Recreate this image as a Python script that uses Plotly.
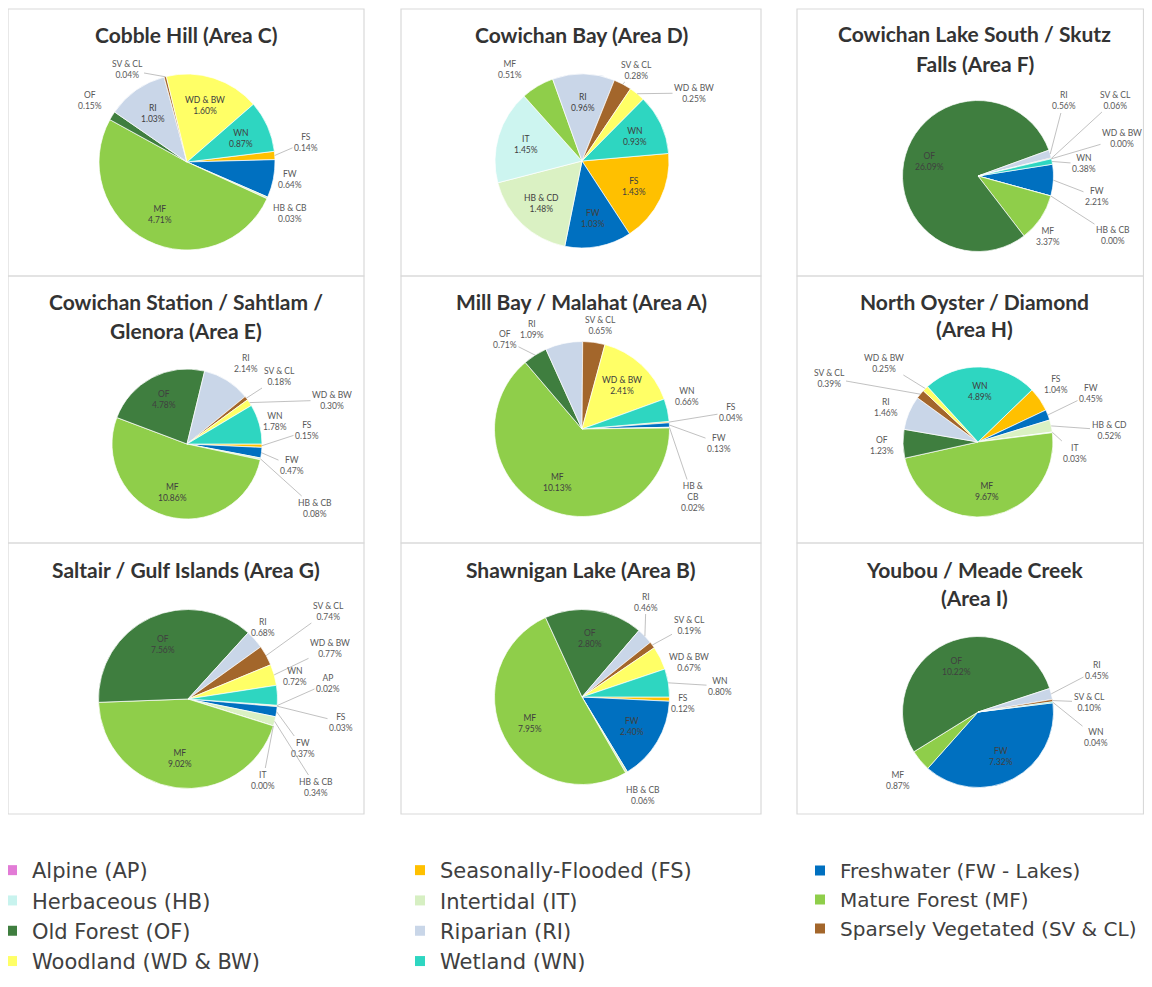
import math
import plotly.graph_objects as go

# the page places the figure 8px from the top-left corner; all positions below are in
# window pixels and converted to paper fractions
OFF = 8
W, H = 1136, 970

# ---------------- data ----------------
codes = ["AP", "FS", "FW", "HB", "IT", "MF", "OF", "RI", "SV", "WD", "WN"]
code_names = ["Alpine (AP)", "Seasonally-Flooded (FS)", "Freshwater (FW - Lakes)",
              "Herbaceous (HB)", "Intertidal (IT)", "Mature Forest (MF)",
              "Old Forest (OF)", "Riparian (RI)", "Sparsely Vegetated (SV & CL)",
              "Woodland (WD & BW)", "Wetland (WN)"]
short_labels = ["AP", "FS", "FW", "HB & CB", "IT", "MF", "OF", "RI", "SV & CL", "WD & BW", "WN"]

# percent of area, in code order (None = category not present)
area_C = [None, 0.14, 0.64, 0.03, None, 4.71, 0.15, 1.03, 0.04, 1.60, 0.87]
area_D = [None, 1.43, 1.03, 1.48, 1.45, 0.51, None, 0.96, 0.28, 0.25, 0.93]
area_F = [None, None, 2.21, 0.00, None, 3.37, 26.09, 0.56, 0.06, 0.00, 0.38]
area_E = [None, 0.15, 0.47, 0.08, None, 10.86, 4.78, 2.14, 0.18, 0.30, 1.78]
area_A = [None, 0.04, 0.13, 0.02, None, 10.13, 0.71, 1.09, 0.65, 2.41, 0.66]
area_H = [None, 1.04, 0.45, 0.52, 0.03, 9.67, 1.23, 1.46, 0.39, 0.25, 4.89]
area_G = [0.02, 0.03, 0.37, 0.34, 0.00, 9.02, 7.56, 0.68, 0.74, 0.77, 0.72]
area_B = [None, 0.12, 2.40, 0.06, None, 7.95, 2.80, 0.46, 0.19, 0.67, 0.80]
area_I = [None, None, 7.32, None, None, 0.87, 10.22, 0.45, 0.10, None, 0.04]

title_lines = [["Cobble Hill (Area C)"], ["Cowichan Bay (Area D)"],
               ["Cowichan Lake South / Skutz", "Falls (Area F)"],
               ["Cowichan Station / Sahtlam /", "Glenora (Area E)"], ["Mill Bay / Malahat (Area A)"],
               ["North Oyster / Diamond", "(Area H)"],
               ["Saltair / Gulf Islands (Area G)"], ["Shawnigan Lake (Area B)"],
               ["Youbou / Meade Creek", "(Area I)"]]
area_values = [area_C, area_D, area_F, area_E, area_A, area_H, area_G, area_B, area_I]

legend_cols = [["AP", "HB", "OF", "WD"], ["FS", "IT", "RI", "WN"], ["FW", "MF", "SV"]]

# ---------------- styles ----------------
pie_colors = {"AP": "#E27BD6", "FS": "#FFC000", "FW": "#0070C0", "HB": "#DAF1C3",
              "IT": "#CDF5F0", "MF": "#8FCE4A", "OF": "#3F7E3F", "RI": "#C9D6E8",
              "SV": "#A3662B", "WD": "#FFFF66", "WN": "#2ED6C1"}
legend_colors = dict(pie_colors)
legend_colors["HB"] = "#C8F3EE"
legend_colors["IT"] = "#D6EFC2"

FONT = "Lato"
TXT = "#404040"
LBL = 8.5

col_x = [(8, 364), (401, 761), (797, 1143.5)]
title_cx = [186, 581, 975]
row_y = [(9, 276), (276, 543), (543, 814)]
panels = [
    dict(c=(187, 162), r=88, rot=83, ty=[34]),
    dict(c=(582, 161), r=87, rot=85, ty=[34]),
    dict(c=(978, 176), r=75.5, rot=81, ty=[33, 63]),
    dict(c=(187, 444), r=75, rot=90, ty=[301, 331]),
    dict(c=(582, 429), r=87.5, rot=85, ty=[301]),
    dict(c=(978, 442), r=75, rot=46, ty=[301, 329]),
    dict(c=(188, 699), r=89.5, rot=94, ty=[569]),
    dict(c=(582, 697), r=87.5, rot=90, ty=[569]),
    dict(c=(978, 712), r=75.5, rot=83, ty=[569, 597]),
]
# outside label placements: code -> (x, y, leader line)
outside = [
    {"SV": (127, 70, True), "OF": (90, 100, False), "FS": (306, 142, True), "FW": (290, 179, False),
     "HB": (290, 213, False)},
    {"MF": (510, 70, False), "SV": (637, 70, True), "WD": (694, 93, True)},
    {"RI": (1064, 101, True), "SV": (1115, 100, True), "WD": (1122, 138, True), "WN": (1084, 164, True),
     "FW": (1097, 197, True), "MF": (1048, 236, False), "HB": (1113, 236, True)},
    {"RI": (246, 363, False), "SV": (279, 377, True), "WD": (332, 400, True), "WN": (275, 421, False),
     "FS": (307, 431, True), "FW": (292, 466, True), "HB": (315, 508, True)},
    {"OF": (505, 340, True), "RI": (532, 330, False), "SV": (600, 326, False), "WN": (687, 396, False),
     "FS": (731, 412, True), "FW": (719, 443, True), "HB": (693, 497, True)},
    {"WD": (884, 363, True), "SV": (829, 378, True), "RI": (886, 407, False), "OF": (882, 446, False),
     "FS": (1056, 385, False), "FW": (1091, 394, True), "HB": (1109, 430, True), "IT": (1075, 453, True)},
    {"RI": (263, 627, False), "SV": (328, 611, True), "WD": (330, 648, True), "WN": (295, 676, False),
     "AP": (328, 683, True), "FS": (341, 722, True), "FW": (303, 748, True), "IT": (263, 780, True),
     "HB": (316, 787, True)},
    {"RI": (646, 602, True), "SV": (689, 625, True), "WD": (689, 662, False), "WN": (720, 686, True),
     "FS": (683, 703, False), "HB": (643, 795, False)},
    {"RI": (1097, 670, True), "SV": (1089, 702, True), "WN": (1096, 737, True), "MF": (898, 780, False)},
]
label_override = {(1, "HB"): "HB & CD", (5, "HB"): "HB & CD", (4, "HB"): "HB &<br>CB"}


def px(x):
    return (x - OFF) / W


def py(y):
    return 1 - (y - OFF) / H


def ann(**kw):
    base = dict(xref="paper", yref="paper", xanchor="center", yanchor="middle")
    base.update(kw)
    return base


fig = go.Figure()
annotations = []
shapes = []

for i, (vals, pan) in enumerate(zip(area_values, panels)):
    cx, cy = pan["c"]
    r = pan["r"]
    idx = [k for k, v in enumerate(vals) if v is not None]
    v_list = [vals[k] for k in idx]
    fig.add_trace(go.Pie(
        values=v_list,
        labels=[code_names[k] for k in idx],
        sort=False, direction="clockwise", rotation=pan["rot"],
        textinfo="none", showlegend=False,
        marker=dict(colors=[pie_colors[codes[k]] for k in idx], line=dict(color="white", width=0.7)),
        domain=dict(x=[px(cx - r), px(cx + r)], y=[py(cy + r), py(cy - r)]),
        hovertemplate="%{label}: %{value:.2f}%<extra></extra>",
    ))
    total = sum(v_list)
    cum = 0.0
    for k, v in zip(idx, v_list):
        code = codes[k]
        theta = math.radians(pan["rot"] + (cum + v / 2) / total * 360)
        cum += v
        name = label_override.get((i, code), short_labels[k])
        text = f"{name}<br>{v:.2f}%"
        if code in outside[i]:
            lx, ly, leader = outside[i][code]
            if leader:
                tx = cx + r * math.sin(theta)
                ty = cy - r * math.cos(theta)
                annotations.append(ann(
                    x=px(tx), y=py(ty), ax=lx - tx, ay=ly - ty, text=text, showarrow=True,
                    arrowhead=0, arrowwidth=0.7, arrowcolor="#A6A6A6", standoff=0,
                    font=dict(family=FONT, size=LBL, color="#595959")))
            else:
                annotations.append(ann(
                    x=px(lx), y=py(ly), text=text, showarrow=False,
                    font=dict(family=FONT, size=LBL, color="#595959")))
        else:
            rr = 0.67 * r
            lx = cx + rr * math.sin(theta)
            ly = cy - rr * math.cos(theta)
            annotations.append(ann(
                x=px(lx), y=py(ly), text=text, showarrow=False,
                font=dict(family=FONT, size=LBL, color=TXT)))
    col, row = i % 3, i // 3
    x0, x1 = col_x[col]
    y0, y1 = row_y[row]
    shapes.append(dict(type="rect", xref="paper", yref="paper",
                       x0=px(x0), x1=px(x1), y0=py(y1), y1=py(y0),
                       line=dict(color="#D9D9D9", width=1.2), fillcolor="rgba(0,0,0,0)"))
    for line_text, ty in zip(title_lines[i], pan["ty"]):
        annotations.append(ann(
            x=px(title_cx[col]), y=py(ty), text=f"<b>{line_text}</b>", showarrow=False,
            font=dict(family=FONT, size=21, color="#333333")))

legend_keys = ["legend", "legend2", "legend3"]
for li, col_codes in enumerate(legend_cols):
    for code in col_codes:
        k = codes.index(code)
        fig.add_trace(go.Scatter(
            x=[None], y=[None], mode="markers", name=code_names[k],
            marker=dict(symbol="square", size=10, color=legend_colors[code]),
            legend=legend_keys[li], showlegend=True, hoverinfo="skip"))

leg_common = dict(xanchor="left", yanchor="top", bgcolor="rgba(0,0,0,0)", tracegroupgap=0,
                  itemclick=False, itemdoubleclick=False)
legend_text_x = [32, 440, 840]
legend_font = [21, 21, 20]
legend_top = [850, 850, 851]

legends = {}
for li, key in enumerate(legend_keys):
    legends[key] = dict(x=px(legend_text_x[li] - 40), y=py(legend_top[li]),
                        font=dict(family="DejaVu Sans", size=legend_font[li], color=TXT), **leg_common)

fig.update_layout(
    width=W, height=H,
    margin=dict(l=0, r=0, t=0, b=0, autoexpand=False),
    paper_bgcolor="white", plot_bgcolor="white",
    xaxis=dict(visible=False), yaxis=dict(visible=False),
    annotations=annotations, shapes=shapes,
    **legends,
)

fig.write_html("out.html")
